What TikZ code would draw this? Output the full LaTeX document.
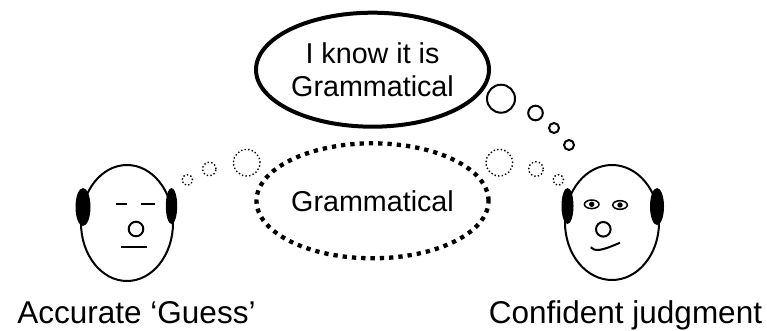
\documentclass[tikz,border=0pt]{standalone}
\usepackage{fontspec}
\setmainfont{Liberation Sans}
\usetikzlibrary{shapes.geometric}
\begin{document}
\begin{tikzpicture}[x=1pt,y=-1pt,
  face/.style={line width=2pt},
  headshape/.style={ellipse, draw, line width=2pt, fill=white, inner sep=0pt},
  bubbletext/.style={font=\fontsize{28.7}{33.6}\selectfont},
  said/.style={ellipse, draw, line width=4pt, inner sep=0pt,
    minimum width=233pt, minimum height=114pt, align=center, bubbletext},
  unsaid/.style={ellipse, draw, line width=4.3pt, dash pattern=on 4.3pt off 5pt,
    inner sep=0pt, minimum width=232pt, minimum height=115pt, bubbletext},
  puff/.style={circle, draw, line width=2pt, inner sep=0pt},
  dotpuff/.style={circle, draw, line width=1.4pt, dash pattern=on 1.4pt off 2.2pt, inner sep=0pt},
  caption/.style={font=\fontsize{31.5}{36}\selectfont, anchor=base}
]
\useasboundingbox (0,0) rectangle (767,331);

% spoken-with-confidence bubble and its trail of puffs
\node[said] (know) at (372.5,69.7) {I know it is\\Grammatical};
\node[puff, minimum size=28pt]   (k1) at (501,98.7) {};
\node[puff, minimum size=14.6pt] (k2) at (535.5,113) {};
\node[puff, minimum size=10pt]   (k3) at (554,128) {};
\node[puff, minimum size=10pt]   (k4) at (569,145) {};

% shared, unsure bubble
\node[unsaid] (guess) at (372.5,200.8) {Grammatical};
\node[dotpuff, minimum size=10.6pt] (gl1) at (187.3,180) {};
\node[dotpuff, minimum size=13.4pt] (gl2) at (209.3,169) {};
\node[dotpuff, minimum size=26.6pt] (gl3) at (246.7,162.7) {};
\node[dotpuff, minimum size=26.6pt] (gr3) at (499.3,162.7) {};
\node[dotpuff, minimum size=14.6pt] (gr2) at (536,169) {};
\node[dotpuff, minimum size=10.6pt] (gr1) at (558.3,180) {};

% left head: the guesser
\node[headshape, minimum width=92pt, minimum height=116pt] (headL) at (127,223) {};
\fill (83,207) ellipse [x radius=7.5pt, y radius=19pt];
\fill (171.5,206) ellipse [x radius=5.7pt, y radius=18pt];
\draw[face] (116,204.3) -- (126.7,204.3);
\draw[face] (141,204.3) -- (155,204.3);
\draw[face] (136,229) circle [radius=7.3pt];
\draw[face] (121,246.7) -- (147,246.7);

% right head: the confident judge
\node[headshape, minimum width=94pt, minimum height=115pt] (headR) at (612,222.5) {};
\fill (567.5,206) ellipse [x radius=6pt, y radius=18pt];
\fill (657,206.5) ellipse [x radius=7pt, y radius=18.5pt];
\draw[line width=1.5pt] (591.7,204.3) ellipse [x radius=7.3pt, y radius=4.3pt];
\draw[line width=1.5pt] (620,205) ellipse [x radius=7.3pt, y radius=4.3pt];
\fill (591.7,204.3) circle [radius=2.7pt];
\fill (620,205) circle [radius=2.7pt];
\draw[face] (603.3,229.3) circle [radius=7.3pt];
\draw[face] (590.7,247.3) .. controls (595,251.5) and (600,251.5) .. (620,242.7);

% captions
\node[caption] (accurate) at (136.5,323.5) {Accurate ‘Guess’};
\node[caption] (confident) at (625.5,323.5) {Confident judgment};
\end{tikzpicture}
\end{document}
